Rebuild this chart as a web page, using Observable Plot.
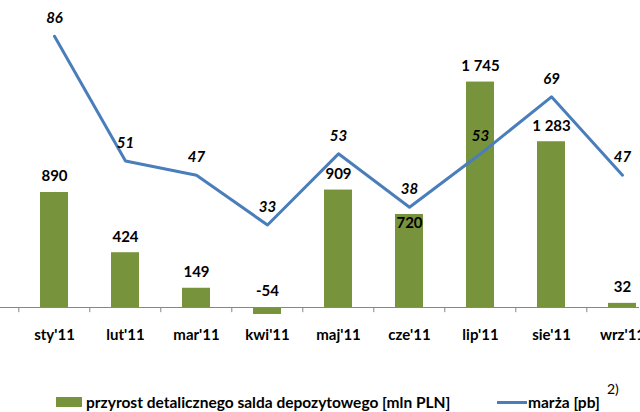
<!DOCTYPE html>
<html>
<head>
<meta charset="utf-8">
<script src="https://cdn.jsdelivr.net/npm/d3@7"></script>
<script src="https://cdn.jsdelivr.net/npm/@observablehq/plot@0.6"></script>
<style>
  html, body { margin: 0; padding: 0; background: #fff; }
  #wrap { position: relative; width: 640px; height: 412px; overflow: hidden; font-family: Lato, "Open Sans", sans-serif; font-weight: bold; }
  #wrap svg { position: absolute; left: 0; top: 0; overflow: visible; max-width: none; }
  .leg { position: absolute; font-size: 15.5px; color: #000; white-space: nowrap; line-height: 1; }
</style>
</head>
<body>
<div id="wrap"></div>
<script>
const months = ["sty'11","lut'11","mar'11","kwi'11","maj'11","cze'11","lip'11","sie'11","wrz'11"];
const deposits = [890, 424, 149, -54, 909, 720, 1745, 1283, 32];
const margin = [86, 51, 47, 33, 53, 38, 53, 69, 47];
const insideLabel = ["cze'11"]; // bar label drawn inside the bar top in the original

const green = "#77933C";
const blue = "#4A7EBB";
const W = 640, H = 350;
const xRange = [16.5, 659.1];
const step = (xRange[1] - xRange[0]) / months.length;
const fmt = v => d3.format(",")(v).replace(/,/g, "\u00a0").replace("\u2212", "-");

const barData = months.map((m, i) => ({m, v: deposits[i]}));
const lineData = months.map((m, i) => ({m, v: margin[i]}));

const xOpts = {domain: months, range: xRange, paddingInner: 0.6, paddingOuter: 0.3};
const font = {fontFamily: "Lato, 'Open Sans', sans-serif", fontWeight: "bold", fontSize: "15px", color: "#000", background: "transparent", overflow: "visible"};

const bars = Plot.plot({
  width: W, height: H,
  style: font,
  x: {...xOpts, axis: null},
  y: {domain: [0, 1000], range: [307, 307 - 129.2], axis: null},
  marks: [
    Plot.barY(barData, {x: "m", y: "v", fill: green}),
    Plot.ruleY([0], {stroke: "#868686", strokeWidth: 1}),
    Plot.ruleX(months, {x: d => d, y1: 0, y2: -40, dx: -step / 2, stroke: "#868686", strokeWidth: 1}),
    Plot.text(barData.filter(d => !insideLabel.includes(d.m)), {x: "m", y: d => Math.max(0, d.v), text: d => fmt(d.v), dy: -16, fill: "#000", fontSize: 15}),
    Plot.text(barData.filter(d => insideLabel.includes(d.m)), {x: "m", y: "v", text: d => fmt(d.v), dy: 9, fill: "#000", fontSize: 15}),
    Plot.text(months, {x: d => d, y: 0, text: d => d, dy: 28, fill: "#000", fontSize: 15})
  ]
});

const line = Plot.plot({
  width: W, height: H,
  style: font,
  x: {...xOpts, axis: null},
  y: {domain: [0, 100], range: [342, 342 - 356], axis: null},
  marks: [
    Plot.line(lineData, {x: "m", y: "v", stroke: blue, strokeWidth: 3}),
    Plot.text(lineData, {x: "m", y: "v", text: d => String(d.v), dy: -18, fill: "#000", fontSize: 15, fontStyle: "italic"})
  ]
});

const wrap = document.getElementById("wrap");
wrap.appendChild(bars);
wrap.appendChild(line);

function leg(html, left, top, style) {
  const d = document.createElement("div");
  d.className = "leg";
  d.style.left = left + "px";
  d.style.top = top + "px";
  if (style) Object.assign(d.style, style);
  d.innerHTML = html;
  wrap.appendChild(d);
  return d;
}
leg("", 56, 397, {width: "26px", height: "10px", background: green});
leg("przyrost detalicznego salda depozytowego [mln PLN]", 86, 395);
leg("", 497, 401, {width: "30px", height: "3px", background: blue});
leg("marża [pb]", 528, 395);
leg("2)", 607, 382, {fontWeight: "normal", fontSize: "14px"});
</script>
</body>
</html>
